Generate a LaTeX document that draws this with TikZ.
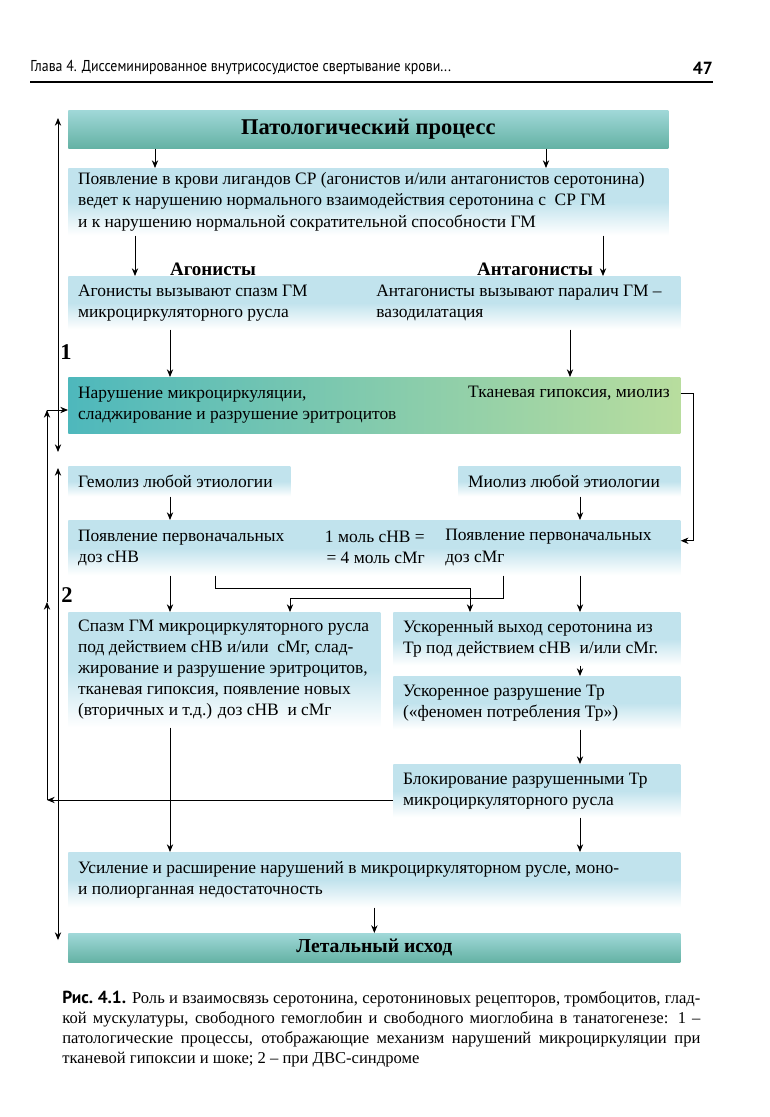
\documentclass[tikz,border=0pt]{standalone}
\usepackage{fontspec}
\setmainfont{Liberation Serif}
\newfontfamily\headfont[FakeStretch=0.88]{PT Sans}
\newfontfamily\capfont{PT Sans}
\usetikzlibrary{arrows.meta}

\definecolor{boxblue}{RGB}{193,227,237}
\definecolor{tealtop}{RGB}{160,216,216}
\definecolor{tealbot}{RGB}{100,178,164}
\definecolor{tealleft}{RGB}{78,184,188}
\definecolor{greenright}{RGB}{184,221,158}

\tikzset{
  blbox/.style={anchor=north west, inner sep=0pt, top color=boxblue, bottom color=white, middle color=boxblue},
  ttlbox/.style={anchor=north west, inner sep=0pt, top color=tealtop, bottom color=tealbot, font=\fontsize{16}{18}\selectfont\bfseries},
  txt/.style={anchor=west, inner sep=0pt, align=left, font=\fontsize{12.4}{15}\selectfont},
  lbl/.style={inner sep=0pt, font=\fontsize{13.5}{15}\selectfont\bfseries},
  arr/.style={-{Stealth[length=5.5pt,width=4.5pt]}, line width=0.6pt},
  arrr/.style={{Stealth[length=5.5pt,width=4.5pt]}-{Stealth[length=5.5pt,width=4.5pt]}, line width=0.6pt}
}

\begin{document}
\begin{tikzpicture}[x=0.025cm,y=-0.025cm]
\fill[white] (0,0) rectangle (769,1117);
\useasboundingbox (0,0) rectangle (769,1117);

% page header
\node[anchor=west,inner sep=0,font=\headfont\fontsize{11.2}{13}\selectfont] (hdr) at (30,68) {Глава 4. Диссеминированное внутрисосудистое свертывание крови...};
\node[anchor=east,inner sep=0,font=\capfont\fontsize{12.5}{14}\selectfont\bfseries] (pg) at (713,68) {47};
\draw[line width=0.8pt] (hdr.west |- 0,82) -- (pg.east |- 0,82);

% boxes
\node[ttlbox, minimum width=15cm, minimum height=0.95cm] (b1) at (68,110) {Патологический процесс};

\node[blbox, minimum width=15cm, minimum height=1.675cm] (b2) at (68,168) {};
\node[txt] (t2) at ([xshift=7pt]b2.west) {Появление в крови лигандов СР (агонистов и/или антагонистов серотонина)\\ведет к нарушению нормального взаимодействия серотонина с \ СР ГМ\\и к нарушению нормальной сократительной способности ГМ};

\node[lbl] (ago) at (213,269) {Агонисты};
\node[lbl] (antago) at (535,269) {Антагонисты};

\node[blbox, minimum width=15.3cm, minimum height=1.325cm] (b3) at (68,276) {};
\node[txt] (t3a) at ([xshift=7pt]b3.west) {Агонисты вызывают спазм ГМ\\микроциркуляторного русла};
\node[txt] (t3b) at (376,302.5) {Антагонисты вызывают паралич ГМ –\\вазодилатация};

\node[font=\fontsize{16}{18}\selectfont\bfseries, inner sep=0] (n1) at (66,352) {1};

\node[anchor=north west, inner sep=0, left color=tealleft, right color=greenright, minimum width=15.3cm, minimum height=1.4cm] (b4) at (68,377) {};
\node[txt] (t4a) at ([xshift=7pt]b4.west) {Нарушение микроциркуляции,\\сладжирование и разрушение эритроцитов};
\node[txt, anchor=east] (t4b) at (670,393) {Тканевая гипоксия, миолиз};

\node[blbox, minimum width=5.55cm, minimum height=0.75cm] (b5a) at (68,466) {};
\node[txt] (t5a) at ([xshift=7pt]b5a.west) {Гемолиз любой этиологии};
\node[blbox, minimum width=5.55cm, minimum height=0.75cm] (b5b) at (458,466) {};
\node[txt] (t5b) at ([xshift=7pt]b5b.west) {Миолиз любой этиологии};

\node[blbox, minimum width=15.3cm, minimum height=1.375cm] (b6) at (68,520) {};
\node[txt] (t6a) at ([xshift=7pt]b6.west) {Появление первоначальных\\доз сНВ};
\node[txt, anchor=east, align=right] (t6b) at (425,547.5) {1 моль сНВ =\\= 4 моль сМг};
\node[txt] (t6c) at (445,547.5) {Появление первоначальных\\доз сМг};

\node[font=\fontsize{16}{18}\selectfont\bfseries, inner sep=0] (n2) at (67,595) {2};

\node[blbox, minimum width=7.8cm, minimum height=2.875cm] (b7) at (68,612) {};
\node[txt] (t7) at ([xshift=7pt]b7.west) {Спазм ГМ микроциркуляторного русла\\под действием сНВ и/или \ сМг, слад-\\жирование и разрушение эритроцитов,\\тканевая гипоксия, появление новых\\(вторичных и т.д.) доз сНВ \ и сМг};

\node[blbox, minimum width=7.175cm, minimum height=1.325cm] (b8) at (393,612) {};
\node[txt] (t8) at ([xshift=7pt]b8.west) {Ускоренный выход серотонина из\\Тр под действием сНВ \ и/или сМг.};

\node[blbox, minimum width=7.175cm, minimum height=1.325cm] (b9) at (393,676) {};
\node[txt] (t9) at ([xshift=7pt]b9.west) {Ускоренное разрушение Тр\\(«феномен потребления Тр»)};

\node[blbox, minimum width=7.175cm, minimum height=1.325cm] (b10) at (393,764) {};
\node[txt] (t10) at ([xshift=7pt]b10.west) {Блокирование разрушенными Тр\\микроциркуляторного русла};

\node[blbox, minimum width=15.3cm, minimum height=1.375cm] (b11) at (68,852) {};
\node[txt] (t11) at ([xshift=7pt]b11.west) {Усиление и расширение нарушений в микроциркуляторном русле, моно-\\и полиорганная недостаточность};

\node[ttlbox, font=\fontsize{14}{16}\selectfont\bfseries, minimum width=15.3cm, minimum height=0.725cm] (b12) at (68,933) {Летальный исход};

% arrow columns
\coordinate (xa) at (135,0);
\coordinate (xb) at (155,0);
\coordinate (xc) at (170,0);
\coordinate (xd) at (546,0);
\coordinate (xe) at (570,0);
\coordinate (xf) at (580,0);
\coordinate (xg) at (603,0);

\draw[arr] (b1.south -| xb) -- (b2.north -| xb);
\draw[arr] (b1.south -| xd) -- (b2.north -| xd);
\draw[arr] (b2.south -| xa) -- (b3.north -| xa);
\draw[arr] (b2.south -| xg) -- (b3.north -| xg);
\draw[arr] (b3.south -| xc) -- (b4.north -| xc);
\draw[arr] (b3.south -| xe) -- (b4.north -| xe);
\draw[arr] (b5a.south -| xc) -- (b6.north -| xc);
\draw[arr] (b5b.south -| xf) -- (b6.north -| xf);
\draw[arr] (b6.south -| xc) -- (b7.north -| xc);
\draw[arr] (b6.south -| xf) -- (b8.north -| xf);
\draw[arr] (b7.south -| xc) -- (b11.north -| xc);
\draw[arr] (b8.south -| xf) -- (b9.north -| xf);
\draw[arr] (b9.south -| xf) -- (b10.north -| xf);
\draw[arr] (b10.south -| xf) -- (b11.north -| xf);
\draw[arr] (b11.south) -- (b12.north);

% crossing links under box 6
\coordinate (k1) at (215,588);
\coordinate (k1e) at (470,588);
\coordinate (k2) at (503,598);
\coordinate (k2e) at (290,598);
\draw[arr] (b6.south -| k1) -- (k1) -- (k1e) -- (b8.north -| k1e);
\draw[arr] (b6.south -| k2) -- (k2) -- (k2e) -- (b7.north -| k2e);

% right link: hypoxia -> myoglobin
\coordinate (r1) at (693,0);
\draw[arr] (t4b.east -| b4.east) -- (t4b.east -| r1) |- ([yshift=5pt]b6.east);

% left lines 1 and 2
\coordinate (u1) at (58,118);
\coordinate (d1) at (58,452);
\coordinate (u2) at (58,468);
\coordinate (d2) at (58,940);
\draw[arrr] (u1) -- (d1);
\draw[arrr] (u2) -- (d2);

% feedback from platelet blockade
\coordinate (f1) at (47,800);
\coordinate (f2) at (47,602);
\coordinate (f3) at (47,410);
\draw[arr] (b10.west |- f1) -- (f1);
\draw[arr] (f1) -- (f2);
\draw[arr] (f2) -- (f3);
\draw[arr] (f3) -- (b4.west |- f3);

% caption
\node[anchor=north west, inner sep=0, text width=15.95cm, align=justify, font=\fontsize{11.8}{14.2}\selectfont] (cap) at (62,991) {{\capfont\fontsize{12.4}{14.2}\selectfont\bfseries Рис.~4.1.} Роль и взаимосвязь серотонина, серотониновых рецепторов, тромбоцитов, глад-\linebreak кой мускулатуры, свободного гемоглобин и свободного миоглобина в танатогенезе: 1~–\linebreak патологические процессы, отображающие механизм нарушений микроциркуляции при\linebreak тканевой гипоксии и шоке; 2 – при ДВС-синдроме};
\end{tikzpicture}
\end{document}
